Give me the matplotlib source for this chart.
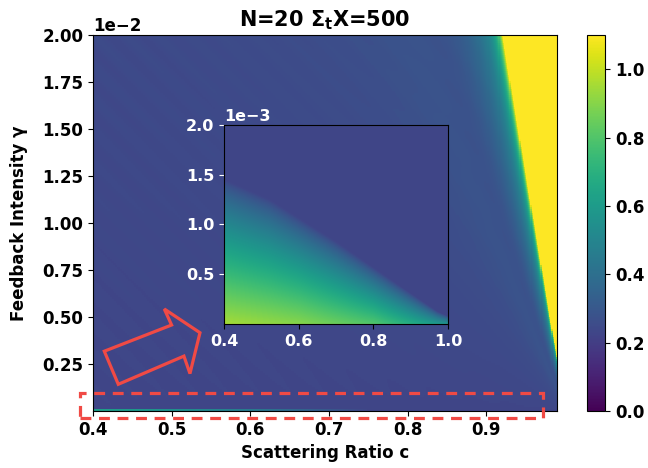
import numpy as np
import matplotlib
matplotlib.use("Agg")
import matplotlib.pyplot as plt
from matplotlib.patches import Polygon, Rectangle

plt.rcParams["font.family"] = ["DejaVu Sans"]
plt.rcParams["font.weight"] = "bold"
plt.rcParams["axes.labelweight"] = "bold"
plt.rcParams["axes.titleweight"] = "bold"
plt.rcParams["mathtext.default"] = "bf"

# ---- grid of the parameter sweep ----
c_range = (0.40, 0.99)          # scattering ratio
g_range = (0.0, 0.02)           # feedback intensity
n_c, n_g = 420, 188

c_inset_range = (0.40, 1.00)
g_inset_range = (0.0, 0.002)
n_ci, n_gi = 300, 200

# ---- levels of the response map ----
background_level = 0.23
saturated_level = 1.5
edge_c_at_top = 0.921           # yellow front position at gamma = 0.02
edge_slope = 4.05               # dc/d(gamma) of the front
ramp_width_top = 0.008          # width of the rising ramp at gamma = 0.02
ramp_height = 0.87
dip_depth = 0.035

# thin high-response layer on the lowest feedback row
strip_c = [0.40, 0.50, 0.60, 0.70, 0.75]
strip_v = [0.62, 0.55, 0.45, 0.30, 0.23]

# low-feedback wedge shown in the inset
wedge_c = [0.40, 0.52, 0.70, 0.88, 0.97, 1.00]
wedge_g = [1.45e-3, 1.25e-3, 0.82e-3, 0.35e-3, 0.12e-3, 0.07e-3]
wedge_floor_c = [0.40, 0.60, 0.80, 0.90, 1.00]
wedge_floor_v = [0.95, 0.90, 0.80, 0.68, 0.55]

# ---- main response field ----
cc = np.linspace(*c_range, n_c)
gg = (np.arange(n_g) + 0.5) / n_g * g_range[1]
C, G = np.meshgrid(cc, gg)

front = edge_c_at_top + edge_slope * (g_range[1] - G)
dist = front - C
width = np.maximum(ramp_width_top * G / g_range[1], 1e-5)
rise = ramp_height / (1.0 + np.clip(dist, 0, None) / width)
dip = -dip_depth * np.exp(-((dist / width - 9.0) / 4.0) ** 2)
main = background_level + rise + dip
main[dist <= 0] = saturated_level

# faint oblique ripples in the upper-left corner
u = (C - c_range[0]) / (c_range[1] - c_range[0]) * 464
t = (g_range[1] - G) / g_range[1] * 376
ripple = 0.008 * np.cos(2 * np.pi * (u - t) / 32.0) * np.exp(-(u + t) / 260.0)
main = main + ripple

main[0, :] = np.interp(cc, strip_c, strip_v)

# ---- inset response field ----
ci = np.linspace(*c_inset_range, n_ci)
gi = np.linspace(*g_inset_range, n_gi)
CI, GI = np.meshgrid(ci, gi)
g_edge = np.interp(CI, wedge_c, wedge_g)
floor = np.interp(CI, wedge_floor_c, wedge_floor_v)
frac = np.clip(1.0 - GI / g_edge, 0, 1) ** 0.8
inset = background_level + (floor - background_level) * frac

# ---- figure ----
fig = plt.figure(figsize=(6.48, 4.68), dpi=100)
ax = fig.add_axes([0.1435, 0.1218, 0.716, 0.8034])
cax = fig.add_axes([0.9059, 0.1218, 0.0278, 0.8034])

im = ax.imshow(main, origin="lower", aspect="auto", cmap="viridis",
               vmin=0.0, vmax=1.1, interpolation="nearest",
               extent=[c_range[0], c_range[1], g_range[0], g_range[1]])
ax.set_xlim(*c_range)
ax.set_ylim(*g_range)
ax.set_xticks([0.4, 0.5, 0.6, 0.7, 0.8, 0.9])
ax.set_yticks([0.0025, 0.005, 0.0075, 0.01, 0.0125, 0.015, 0.0175, 0.02])
ax.ticklabel_format(axis="y", style="sci", scilimits=(0, 0))
ax.yaxis.get_offset_text().set_fontsize(12)
ax.yaxis.get_offset_text().set_fontweight("bold")
ax.tick_params(labelsize=12)
ax.set_xlabel("Scattering Ratio c", fontsize=12)
ax.set_ylabel("Feedback Intensity γ", fontsize=12, labelpad=10)
ax.set_title("N=20 Σ$_{t}$X=500", fontsize=15)

cb = fig.colorbar(im, cax=cax)
cb.set_ticks([0.0, 0.2, 0.4, 0.6, 0.8, 1.0])
cb.ax.tick_params(labelsize=12)

# zoomed view of the low-feedback wedge
axi = fig.add_axes([0.3457, 0.3077, 0.3457, 0.4252])
axi.imshow(inset, origin="lower", aspect="auto", cmap="viridis",
           vmin=0.0, vmax=1.1, interpolation="bilinear",
           extent=[c_inset_range[0], c_inset_range[1],
                   g_inset_range[0], g_inset_range[1]])
axi.set_xlim(*c_inset_range)
axi.set_ylim(*g_inset_range)
axi.set_xticks([0.4, 0.6, 0.8, 1.0])
axi.set_yticks([0.0005, 0.001, 0.0015, 0.002])
axi.ticklabel_format(axis="y", style="sci", scilimits=(0, 0))
axi.tick_params(labelsize=11.5, labelcolor="white")
axi.tick_params(axis="y", color="white")
axi.yaxis.get_offset_text().set_color("white")
axi.yaxis.get_offset_text().set_fontsize(11.5)
axi.yaxis.get_offset_text().set_fontweight("bold")

# hollow arrow pointing at the inset
arrow_pts = [(0.0244, 0.159), (0.0545, 0.071), (0.196, 0.146), (0.209, 0.0995),
             (0.2306, 0.2082), (0.1537, 0.2713), (0.1694, 0.2287)]
ax.add_patch(Polygon(arrow_pts, closed=True, fill=False, edgecolor="#f04a45",
                     linewidth=2.3, transform=ax.transAxes, clip_on=False,
                     zorder=5, joinstyle="miter"))

# dashed frame around the thin bottom layer
ax.add_patch(Rectangle((-0.028, -0.0186), 0.998, 0.0665, fill=False,
                       edgecolor="#f04a45", linewidth=2.3,
                       linestyle=(0, (3.4, 2.4)), transform=ax.transAxes,
                       clip_on=False, zorder=5))

fig.savefig("out.png", dpi=100)
